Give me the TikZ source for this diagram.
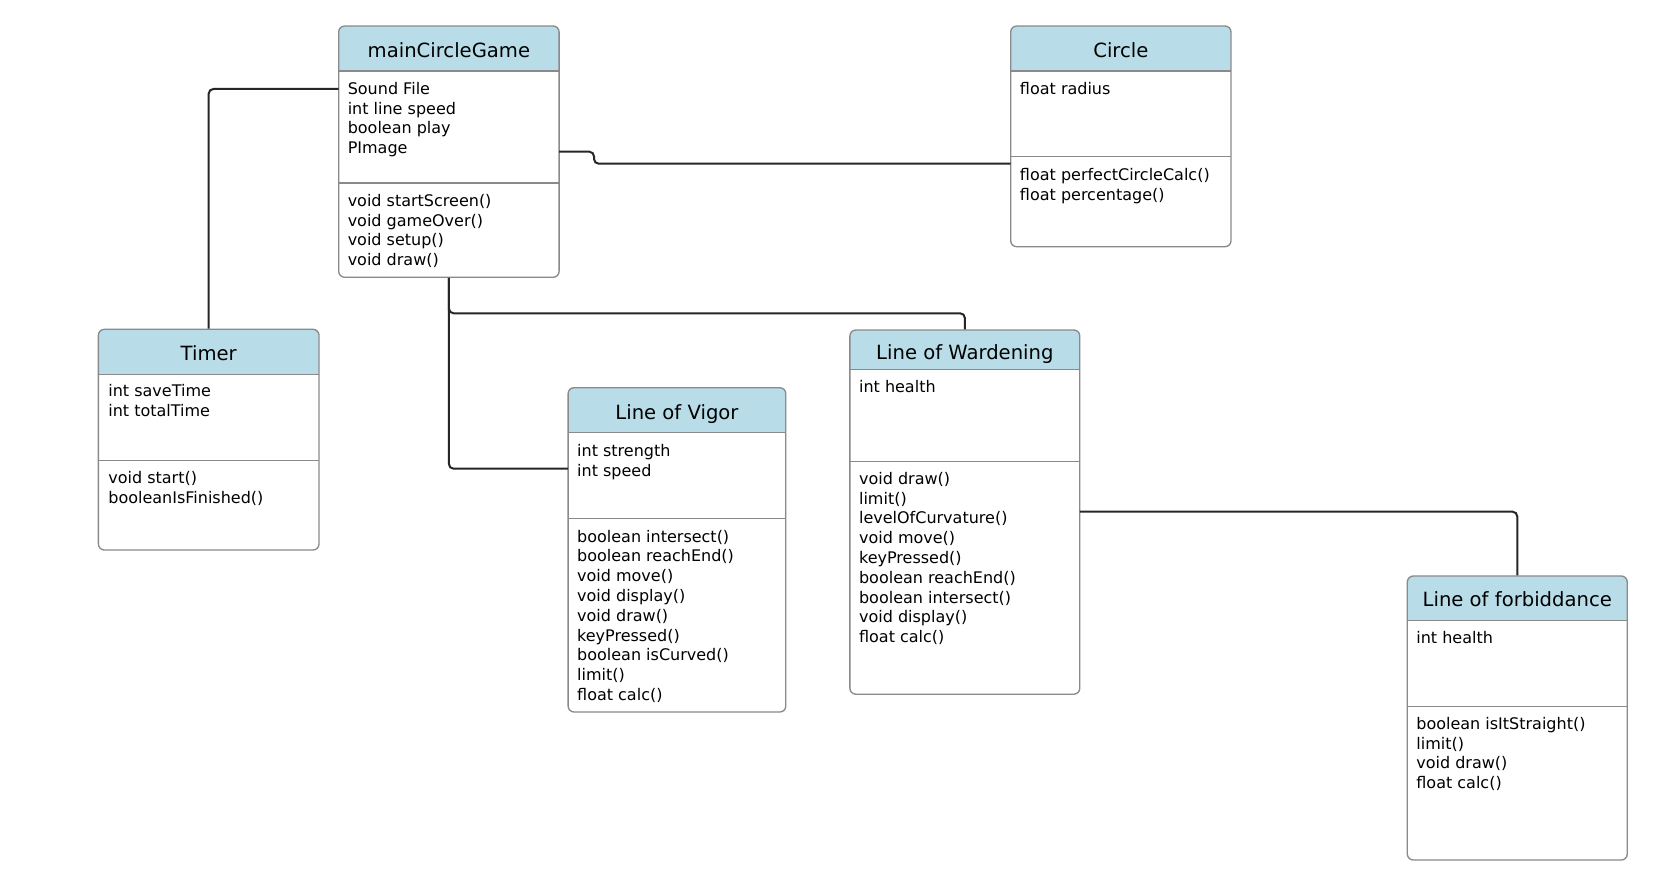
\documentclass[tikz,border=0pt]{standalone}
\usepackage{fontspec}
\setmainfont{DejaVu Sans}
\usetikzlibrary{fit}

\definecolor{headblue}{HTML}{B8DDE8}
\definecolor{framegray}{HTML}{8A8A8A}
\definecolor{linkink}{HTML}{262626}

\tikzset{
  headfill/.style={fill=headblue},
  divline/.style={draw=framegray, line width=1pt},
  classframe/.style={draw=framegray, line width=1pt, rounded corners=4.5pt, inner sep=0pt},
  link/.style={draw=linkink, line width=1.5pt, rounded corners=3.5pt},
  titletext/.style={font=\fontsize{14.7pt}{17pt}\selectfont, inner sep=0pt, anchor=base},
  member/.style={font=\fontsize{12pt}{14.85pt}\selectfont, inner sep=0pt, anchor=base west},
}

% stacked member lines, baseline at the first line
\newcommand{\memberlist}[1]{\begin{tabular}[t]{@{}l@{}}#1\end{tabular}}

% class box: name, left, top, right, bottom, header bottom, divider
\newcommand{\classbox}[7]{%
  \begin{scope}
    \clip[rounded corners=4.5pt] (#2,#3) rectangle (#4,#5);
    \fill[headfill] (#2,#3) rectangle (#4,#6);
  \end{scope}
  \draw[divline] (#2,#6) -- (#4,#6);
  \draw[divline] (#2,#7) -- (#4,#7);
  \node[classframe, fit={(#2,#3) (#4,#5)}] (#1) {};
}

\begin{document}
\begin{tikzpicture}[x=0.75pt, y=-0.75pt]
  \fill[white] (0,0) rectangle (1659,880);
  \useasboundingbox (0,0) rectangle (1659,880);

  % connector end points on the box edges
  \coordinate (main-t) at (338.7,89);
  \coordinate (main-c) at (559.1,151.7);
  \coordinate (jog) at (594,151.7);
  \coordinate (circ-m) at (1010.7,163.7);
  \coordinate (split) at (448.9,313.3);
  \coordinate (vig-m) at (568.1,468.7);
  \coordinate (ward-f) at (1079.8,511.7);

  % classes
  \classbox{main}{338.7}{26}{559.1}{277.3}{71}{183}
  \classbox{circ}{1010.7}{26}{1231}{246.7}{71}{156.7}
  \classbox{timer}{98.4}{329.3}{319}{550}{374.7}{460.7}
  \classbox{vig}{568.1}{387.7}{785.8}{712}{432.7}{518.7}
  \classbox{ward}{849.9}{330}{1079.8}{694.2}{369.3}{461.6}
  \classbox{forb}{1407.3}{576}{1627.2}{860}{620.8}{706.2}

  % associations
  \draw[link] (main-t) -| (timer.north);
  \draw[link] (main-c) -- (jog) |- (circ-m);
  \draw[link] (main.south) |- (split) -| (ward.north);
  \draw[link] (main.south) |- (vig-m);
  \draw[link] (ward-f) -| (forb.north);

  % titles
  \node[titletext] (main-title) at (main.north |- 0,57.7) {mainCircleGame};
  \node[titletext] (circ-title) at (circ.north |- 0,57.7) {Circle};
  \node[titletext] (timer-title) at (timer.north |- 0,360.3) {Timer};
  \node[titletext] (vig-title) at (vig.north |- 0,419.7) {Line of Vigor};
  \node[titletext] (ward-title) at (ward.north |- 0,359.2) {Line of Wardening};
  \node[titletext] (forb-title) at (forb.north |- 0,606.7) {Line of forbiddance};

  % attributes and operations
  \node[member] (main-attr) at (347.5,94.3) {\memberlist{Sound File\\int line speed\\boolean play\\PImage}};
  \node[member] (main-ops) at (347.5,206.3) {\memberlist{void startScreen()\\void gameOver()\\void setup()\\void draw()}};

  \node[member] (circ-attr) at (1019.7,94.3) {\memberlist{float radius}};
  \node[member] (circ-ops) at (1019.7,180.3) {\memberlist{float perfectCircleCalc()\\float percentage()}};

  \node[member] (timer-attr) at (108.1,397) {\memberlist{int saveTime\\int totalTime}};
  \node[member] (timer-ops) at (108.1,483.7) {\memberlist{void start()\\booleanIsFinished()}};

  \node[member] (vig-attr) at (576.9,456.3) {\memberlist{int strength\\int speed}};
  \node[member] (vig-ops) at (576.9,542) {\memberlist{boolean intersect()\\boolean reachEnd()\\void move()\\void display()\\void draw()\\keyPressed()\\boolean isCurved()\\limit()\\float calc()}};

  \node[member] (ward-attr) at (858.8,392.3) {\memberlist{int health}};
  \node[member] (ward-ops) at (858.8,484.3) {\memberlist{void draw()\\limit()\\levelOfCurvature()\\void move()\\keyPressed()\\boolean reachEnd()\\boolean intersect()\\void display()\\float calc()}};

  \node[member] (forb-attr) at (1416.1,643.2) {\memberlist{int health}};
  \node[member] (forb-ops) at (1416.1,729.3) {\memberlist{boolean isItStraight()\\limit()\\void draw()\\float calc()}};
\end{tikzpicture}
\end{document}
